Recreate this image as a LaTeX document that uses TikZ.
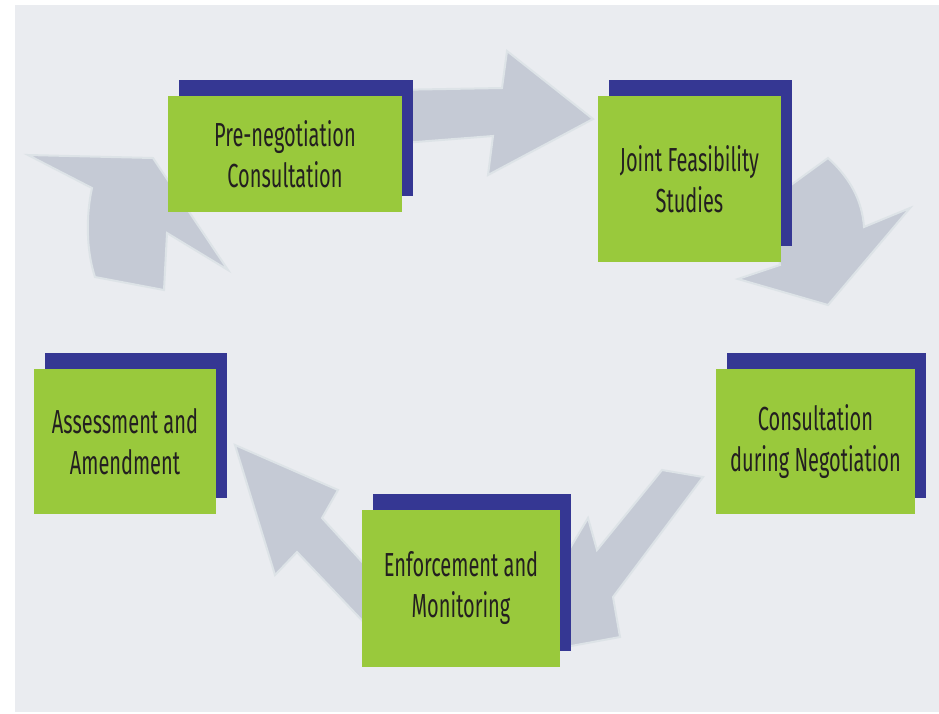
\documentclass[tikz,border=0pt]{standalone}
\usepackage{fontspec}
\newfontfamily\stagefont{Fira Sans}[FakeStretch=0.6]
\usetikzlibrary{shadows}
\definecolor{paneGray}{HTML}{EAECF0}
\definecolor{arrowGray}{HTML}{C5CAD5}
\definecolor{arrowEdge}{HTML}{DDE3E7}
\definecolor{stageGreen}{HTML}{99C93C}
\definecolor{stageNavy}{HTML}{353793}
\definecolor{stageText}{HTML}{231F20}
\tikzset{%
  % Specifications for style of nodes:
       stage/.style = {rectangle, fill=stageGreen, inner sep=0pt, align=center,
                       text=stageText,
                       font=\stagefont\fontsize{23.7pt}{29.2pt}\selectfont,
                       general shadow={fill=stageNavy, shadow xshift=0.275cm,
                                       shadow yshift=0.4cm}},
  cycleArrow/.style = {fill=arrowGray, draw=arrowEdge, line width=0.05cm,
                       line join=miter},
}

\begin{document}
\begin{tikzpicture}[x=0.025cm, y=-0.025cm]
  % page and pane
\fill[white] (0,0) rectangle (939,713);
\useasboundingbox (0,0) rectangle (939,713);
\fill[paneGray] (15,5) rectangle (939,712);

  % block arrows of the cycle (behind the boxes)
\draw[cycleArrow] (390,90) -- (502,88) -- (507,51) -- (593,119) -- (488,175)
                  -- (493,136) -- (390,144) -- cycle;
\draw[cycleArrow] (770,200) -- (791,185) -- (828,158)
                  .. controls (850,178) and (862,200) .. (864,227)
                  -- (910,208) -- (828,305) -- (738,279) -- (780,265) -- cycle;
\draw[cycleArrow] (662,470) -- (703,477) -- (613,597) -- (620,637) -- (560,648)
                  -- (560,565) -- (588,518) -- (597,550) -- cycle;
\draw[cycleArrow] (235,445) -- (338,490) -- (322,518) -- (375,576) -- (375,634)
                  -- (297,552) -- (275,575) -- cycle;
\draw[cycleArrow] (28,155) -- (153,158) -- (228,270) -- (167,233) -- (164,290)
                  -- (95,277) .. controls (86,250) and (86,215) .. (92,188) -- cycle;

  % Specification of nodes (position, etc.)
\node (preNeg) at (285,154) [stage, minimum width=5.85cm, minimum height=2.9cm]
      {Pre-negotiation\\Consultation};
\node (jointStudies) at (689.5,179) [stage, minimum width=4.575cm, minimum height=4.15cm]
      {Joint Feasibility\\Studies};
\node (duringNeg) at (815.5,441.5) [stage, minimum width=4.975cm, minimum height=3.625cm]
      {Consultation\\during Negotiation};
\node (enforce) at (461,588.5) [stage, minimum width=4.95cm, minimum height=3.925cm]
      {Enforcement and\\Monitoring};
\node (assess) at (125,441.5) [stage, minimum width=4.55cm, minimum height=3.625cm]
      {Assessment and\\Amendment};
\end{tikzpicture}
\end{document}
